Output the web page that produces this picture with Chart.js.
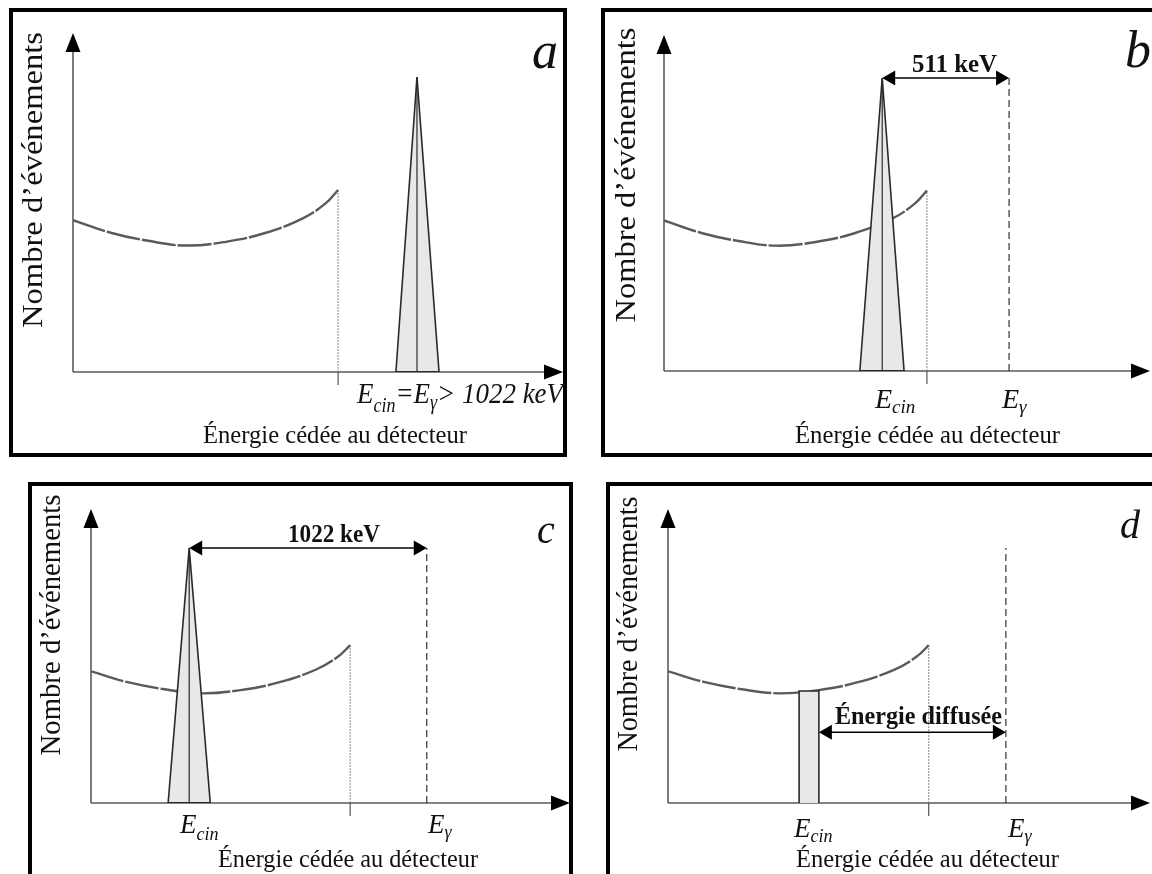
<!DOCTYPE html>
<html><head><meta charset="utf-8">
<script src="https://cdn.jsdelivr.net/npm/chart.js@4.4.1/dist/chart.umd.min.js"></script>
<style>
html,body{margin:0;padding:0;background:#fff;width:1152px;height:874px;overflow:hidden;position:relative}
.frame{position:absolute;border:4px solid #000;box-sizing:border-box}
canvas{position:absolute}
</style></head><body>
<div class="frame" style="left:9px;top:8px;width:558px;height:449px"></div>
<div class="frame" style="left:601px;top:8px;width:600px;height:449px"></div>
<div class="frame" style="left:28px;top:482px;width:545px;height:420px"></div>
<div class="frame" style="left:606px;top:482px;width:600px;height:420px"></div>
<canvas id="c0" width="558" height="449" style="left:9px;top:8px"></canvas>
<canvas id="c1" width="551" height="449" style="left:601px;top:8px"></canvas>
<canvas id="c2" width="545" height="392" style="left:28px;top:482px"></canvas>
<canvas id="c3" width="546" height="392" style="left:606px;top:482px"></canvas>
<script>
// ---- data (x: energy, % of axis length; y: events, % of axis height) ----
const panelLetters = ['a', 'b', 'c', 'd'];
const comptonX = [0, 7.9, 15.3, 23.1, 31.2, 39.2, 47.0, 51.6, 54.1];
const comptonY = [44.8, 41.0, 38.7, 37.3, 38.4, 41.0, 45.4, 49.8, 53.7];
const peakLeft   = [65.9, 40.3, 16.1, null];
const peakCenter = [70.2, 44.9, 20.5, null];
const peakRight  = [74.7, 49.4, 24.9, null];
const peakHeight = [87.0, 87.2, 86.7, null];
const rectLeft  = [null, null, null, 27.2];
const rectRight = [null, null, null, 31.3];
const rectTop   = [null, null, null, 38.1];
const gammaEnergy = [null, 71.0, 70.1, 70.1];
const gammaTop    = [null, 87.2, 86.7, 86.7];
const arrowFrom   = [null, 44.9, 20.5, 31.3];
const arrowTo     = [null, 71.0, 70.1, 70.1];
const arrowLevel  = [null, 87.2, 86.7, 24.1];
const arrowLabels = [null, '511 keV', '1022 keV', 'Énergie diffusée'];
const xTitle = 'Énergie cédée au détecteur';
const yTitle = 'Nombre d’événements';

// ---- layout (page pixels) ----
const layouts = [
  {canvas:[9,8,558,449], origin:[73,372], tip:[563,33],
   letter:{x:532,y:68,size:52}, yT:{x:42,cy:180,len:296}, xT:{x:203,y:443,w:264},
   eLabels:[{segs:[['E',30,0],['cin',20,9],['=',30,0],['E',30,0],['γ',20,6],['> 1022 keV',30,0]],x:357,y:403,w:206}],
   aLab:null},
  {canvas:[601,8,551,449], origin:[664,371], tip:[1150,35],
   letter:{x:1125,y:67,size:52}, yT:{x:635,cy:175,len:295}, xT:{x:795,y:443,w:265},
   eLabels:[{segs:[['E',28,0],['cin',19,5]],x:875,y:408},{segs:[['E',28,0],['γ',19,5]],x:1002,y:408}],
   aLab:{x:912,y:72,w:85}},
  {canvas:[28,482,545,392], origin:[91,803], tip:[570,509],
   letter:{x:537,y:543,size:40}, yT:{x:60,cy:625,len:261}, xT:{x:218,y:867,w:260},
   eLabels:[{segs:[['E',27,0],['cin',18,7]],x:180,y:833},{segs:[['E',27,0],['γ',18,5]],x:428,y:833}],
   aLab:{x:288,y:542,w:92}},
  {canvas:[606,482,546,392], origin:[668,803], tip:[1150,509],
   letter:{x:1120,y:538,size:40}, yT:{x:637,cy:624,len:255}, xT:{x:796,y:867,w:263},
   eLabels:[{segs:[['E',27,0],['cin',18,5]],x:794,y:837},{segs:[['E',27,0],['γ',18,5]],x:1008,y:837}],
   aLab:{x:835,y:724,w:167}}
];

const SERIF = '"Liberation Serif","Times New Roman",serif';

function fitText(ctx, text, font, x, y, w) {
  ctx.save(); ctx.font = font;
  const m = ctx.measureText(text).width;
  const s = w ? w / m : 1;
  ctx.translate(x, y); ctx.scale(s, 1);
  ctx.textAlign = 'left'; ctx.textBaseline = 'alphabetic';
  ctx.fillText(text, 0, 0); ctx.restore();
}
function richText(ctx, segs, x, y, w) {
  let total = 0; const ws = [];
  segs.forEach(s => { ctx.font = `italic ${s[1]}px ${SERIF}`; const m = ctx.measureText(s[0]).width; ws.push(m); total += m; });
  const sc = w ? w / total : 1;
  ctx.save(); ctx.translate(x, y); ctx.scale(sc, 1);
  ctx.textAlign = 'left'; ctx.textBaseline = 'alphabetic';
  let cx = 0;
  segs.forEach((s, k) => { ctx.font = `italic ${s[1]}px ${SERIF}`; ctx.fillText(s[0], cx, s[2]); cx += ws[k]; });
  ctx.restore();
}
function head(ctx, tx, ty, dir, len, half) {
  ctx.beginPath(); ctx.moveTo(tx, ty);
  if (dir === 'r') { ctx.lineTo(tx - len, ty - half); ctx.lineTo(tx - len, ty + half); }
  if (dir === 'l') { ctx.lineTo(tx + len, ty - half); ctx.lineTo(tx + len, ty + half); }
  if (dir === 'u') { ctx.lineTo(tx - half, ty + len); ctx.lineTo(tx + half, ty + len); }
  ctx.closePath(); ctx.fill();
}

function build() {
  layouts.forEach((L, i) => {
    const [cx, cy, cw, ch] = L.canvas;
    const pad = {left: L.origin[0] - cx, top: L.tip[1] - cy, right: cx + cw - L.tip[0], bottom: cy + ch - L.origin[1]};
    const last = comptonX.length - 1;
    const ds = [];
    ds.push({label:'compton', data: comptonX.map((x, k) => ({x, y: comptonY[k]})), showLine:true,
      borderColor:'#5a5a5a', borderWidth:2.4, tension:0.4, pointRadius:0, fill:false, borderDash:[34,2], order:6});
    ds.push({label:'edge', data:[{x:comptonX[last], y:0}, {x:comptonX[last], y:comptonY[last]}], showLine:true,
      borderColor:'#8a8a8a', borderWidth:1, pointRadius:0, borderDash:[2,1], order:7});
    if (peakCenter[i] !== null) {
      ds.push({label:'peak', data:[{x:peakLeft[i], y:0}, {x:peakCenter[i], y:peakHeight[i]}, {x:peakRight[i], y:0}], showLine:true,
        borderColor:'#2a2a2a', borderWidth:1.6, tension:0, pointRadius:0, fill:'origin', backgroundColor:'#e8e8e8', order:3});
      ds.push({label:'peakAxis', data:[{x:peakCenter[i], y:0}, {x:peakCenter[i], y:peakHeight[i]}], showLine:true,
        borderColor:'#2a2a2a', borderWidth:1.2, pointRadius:0, order:2});
      ds.push({label:'peakBase', data:[{x:peakLeft[i], y:0}, {x:peakRight[i], y:0}], showLine:true,
        borderColor:'#2a2a2a', borderWidth:2.2, pointRadius:0, order:2});
    }
    if (rectLeft[i] !== null) {
      ds.push({label:'rect', data:[{x:rectLeft[i], y:0}, {x:rectLeft[i], y:rectTop[i]}, {x:rectRight[i], y:rectTop[i]}, {x:rectRight[i], y:0}], showLine:true,
        borderColor:'#2a2a2a', borderWidth:1.6, tension:0, pointRadius:0, fill:'origin', backgroundColor:'#e8e8e8', order:3});
    }
    if (gammaEnergy[i] !== null) {
      ds.push({label:'gamma', data:[{x:gammaEnergy[i], y:0}, {x:gammaEnergy[i], y:gammaTop[i]}], showLine:true,
        borderColor:'#222', borderWidth:1.1, pointRadius:0, borderDash:[7,4], order:4});
    }

    const deco = {
      id:'deco' + i,
      beforeDatasetsDraw(chart) {
        const ctx = chart.ctx, xs = chart.scales.x, ys = chart.scales.y;
        const x0 = xs.getPixelForValue(0), x1 = xs.getPixelForValue(100);
        const y0 = ys.getPixelForValue(0), y1 = ys.getPixelForValue(100);
        ctx.save();
        ctx.strokeStyle = '#5a5a5a'; ctx.lineWidth = 1.6;
        ctx.beginPath(); ctx.moveTo(x0, y0); ctx.lineTo(x1 - 12, y0); ctx.stroke();
        ctx.beginPath(); ctx.moveTo(x0, y0); ctx.lineTo(x0, y1 + 12); ctx.stroke();
        ctx.fillStyle = '#000';
        head(ctx, x1, y0, 'r', 19, 7.5);
        head(ctx, x0, y1, 'u', 19, 7.5);
        const xe = xs.getPixelForValue(comptonX[comptonX.length - 1]);
        ctx.strokeStyle = '#333'; ctx.lineWidth = 1;
        ctx.beginPath(); ctx.moveTo(xe, y0); ctx.lineTo(xe, y0 + 13); ctx.stroke();
        ctx.restore();
      },
      afterDatasetsDraw(chart) {
        const ctx = chart.ctx, xs = chart.scales.x, ys = chart.scales.y;
        ctx.save();
        if (arrowFrom[i] !== null) {
          const ax0 = xs.getPixelForValue(arrowFrom[i]), ax1 = xs.getPixelForValue(arrowTo[i]);
          const ay = ys.getPixelForValue(arrowLevel[i]);
          ctx.strokeStyle = '#000'; ctx.lineWidth = 1.5;
          ctx.beginPath(); ctx.moveTo(ax0 + 8, ay); ctx.lineTo(ax1 - 8, ay); ctx.stroke();
          ctx.fillStyle = '#000';
          head(ctx, ax0, ay, 'l', 13, 7.5);
          head(ctx, ax1, ay, 'r', 13, 7.5);
        }
        ctx.fillStyle = '#111';
        const ox = cx, oy = cy;
        ctx.font = `italic ${L.letter.size}px ${SERIF}`;
        ctx.textAlign = 'left'; ctx.textBaseline = 'alphabetic';
        ctx.fillText(panelLetters[i], L.letter.x - ox, L.letter.y - oy);
        fitText(ctx, xTitle, `26px ${SERIF}`, L.xT.x - ox, L.xT.y - oy, L.xT.w);
        ctx.save();
        ctx.translate(L.yT.x - ox, L.yT.cy - oy); ctx.rotate(-Math.PI / 2);
        fitText(ctx, yTitle, `30px ${SERIF}`, -L.yT.len / 2, 0, L.yT.len);
        ctx.restore();
        L.eLabels.forEach(e => richText(ctx, e.segs, e.x - ox, e.y - oy, e.w));
        if (L.aLab) fitText(ctx, arrowLabels[i], `bold 26px ${SERIF}`, L.aLab.x - ox, L.aLab.y - oy, L.aLab.w);
        ctx.restore();
      }
    };

    new Chart(document.getElementById('c' + i), {
      type:'scatter',
      data:{datasets: ds},
      options:{
        responsive:false, animation:false, events:[], devicePixelRatio:1,
        layout:{padding: pad},
        scales:{
          x:{type:'linear', min:0, max:100, display:false},
          y:{type:'linear', min:0, max:100, display:false}
        },
        plugins:{legend:{display:false}, tooltip:{enabled:false}},
        elements:{point:{radius:0}}
      },
      plugins:[deco]
    });
  });
}
Promise.all([
  document.fonts.load(`26px ${SERIF}`),
  document.fonts.load(`italic 26px ${SERIF}`),
  document.fonts.load(`bold 26px ${SERIF}`)
]).then(build, build);
</script>
</body></html>
